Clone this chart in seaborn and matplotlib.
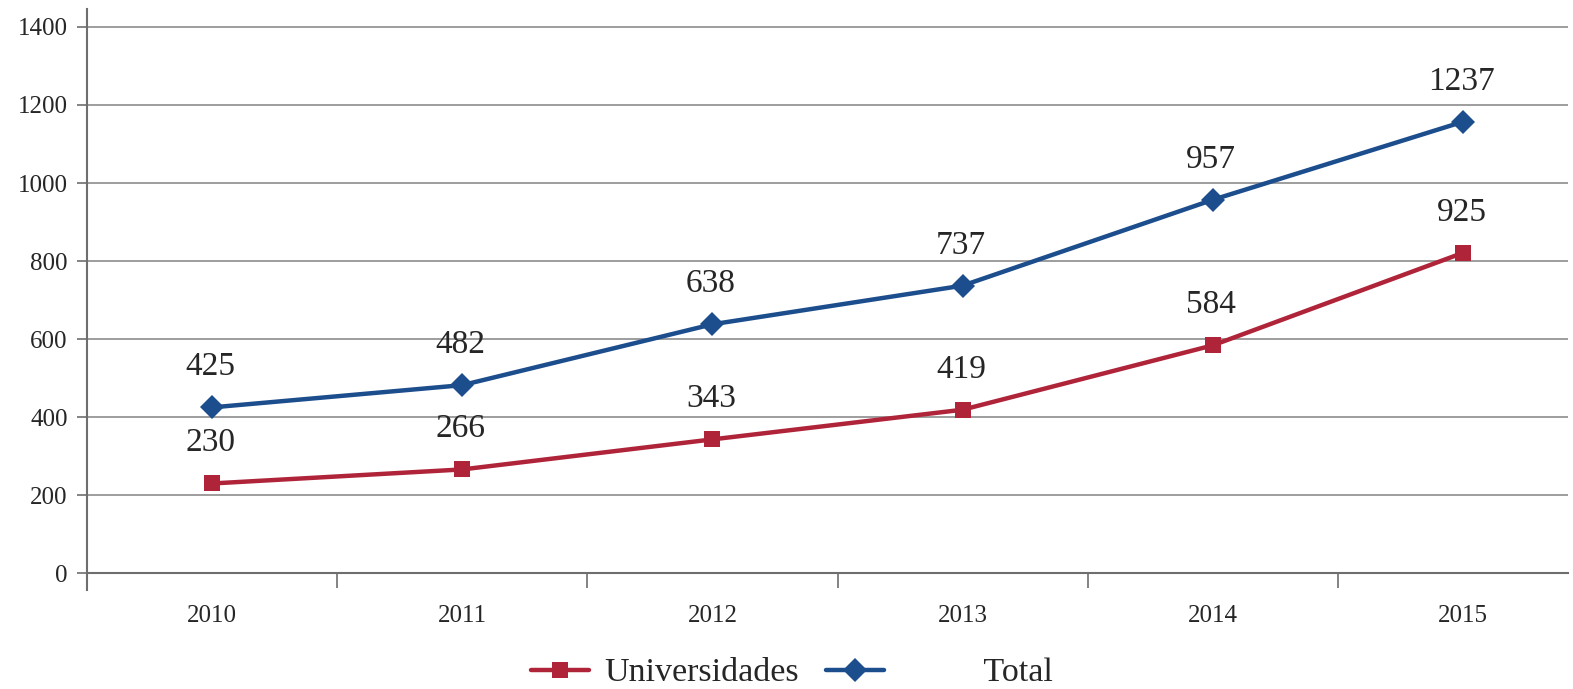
import numpy as np
import pandas as pd
import matplotlib.pyplot as plt
import seaborn as sns

sns.set_style("white")
plt.rcParams['font.family'] = ['Liberation Serif', 'DejaVu Serif']

years = ['2010', '2011', '2012', '2013', '2014', '2015']
# plotted heights (the 2015 points sit below their printed labels in the original)
univ = [230, 266, 343, 419, 584, 821]
total = [425, 482, 638, 737, 957, 1157]
univ_labels = ['230', '266', '343', '419', '584', '925']
total_labels = ['425', '482', '638', '737', '957', '1237']

red = '#B0243A'
blue = '#1C4D8C'

df = pd.DataFrame({'pos': np.arange(len(years)), 'univ': univ, 'total': total})

fig = plt.figure(figsize=(15.73, 6.89), dpi=100)
ax = fig.add_axes([87 / 1573, 99 / 689, (1568 - 87) / 1573, (680 - 99) / 689])

sns.lineplot(data=df, x='pos', y='univ', ax=ax, color=red, lw=3.2, marker='s',
             markersize=11, markeredgewidth=0, label='Universidades')
sns.lineplot(data=df, x='pos', y='total', ax=ax, color=blue, lw=3.2, marker='D',
             markersize=12, markeredgewidth=0, label=' ' * 10 + 'Total')

for x, y, t in zip(df['pos'], univ, univ_labels):
    ax.annotate(t, (x, y), xytext=(-1, 29), textcoords='offset points',
                ha='center', va='center', fontsize=24)
for x, y, t in zip(df['pos'], total, total_labels):
    ax.annotate(t, (x, y), xytext=(-1, 29), textcoords='offset points',
                ha='center', va='center', fontsize=24)

ax.set_xlim(-0.5, 5.42)
ax.set_ylim(-43, 1446)
ax.set_yticks(range(0, 1401, 200))
ax.set_xticks(df['pos'])
ax.set_xticklabels(years)
ax.set_xticks(np.arange(0.5, 5.5, 1), minor=True)
for v in range(200, 1401, 200):
    ax.axhline(v, color='#8c8c8c', lw=1.2, zorder=0)

ax.spines['bottom'].set_position(('data', 0))
for s in ['top', 'right']:
    ax.spines[s].set_visible(False)
for s in ['left', 'bottom']:
    ax.spines[s].set_color('#6e6e6e')
    ax.spines[s].set_linewidth(1.5)

ax.tick_params(axis='y', which='major', left=True, direction='out', length=7,
               width=1.2, color='#6e6e6e', labelsize=18, pad=7)
ax.tick_params(axis='x', which='major', bottom=True, length=0, labelsize=18, pad=23)
ax.tick_params(axis='x', which='minor', bottom=True, direction='out', length=11,
               width=1.2, color='#6e6e6e')
ax.set_xlabel('')
ax.set_ylabel('')

ax.legend(loc='center', bbox_to_anchor=(792 / 1573, 1 - 673 / 689),
          bbox_transform=fig.transFigure, ncol=2, frameon=False,
          fontsize=24.5, handlelength=1.7, handletextpad=0.45, columnspacing=0.8)

fig.savefig('out.png', dpi=100)
